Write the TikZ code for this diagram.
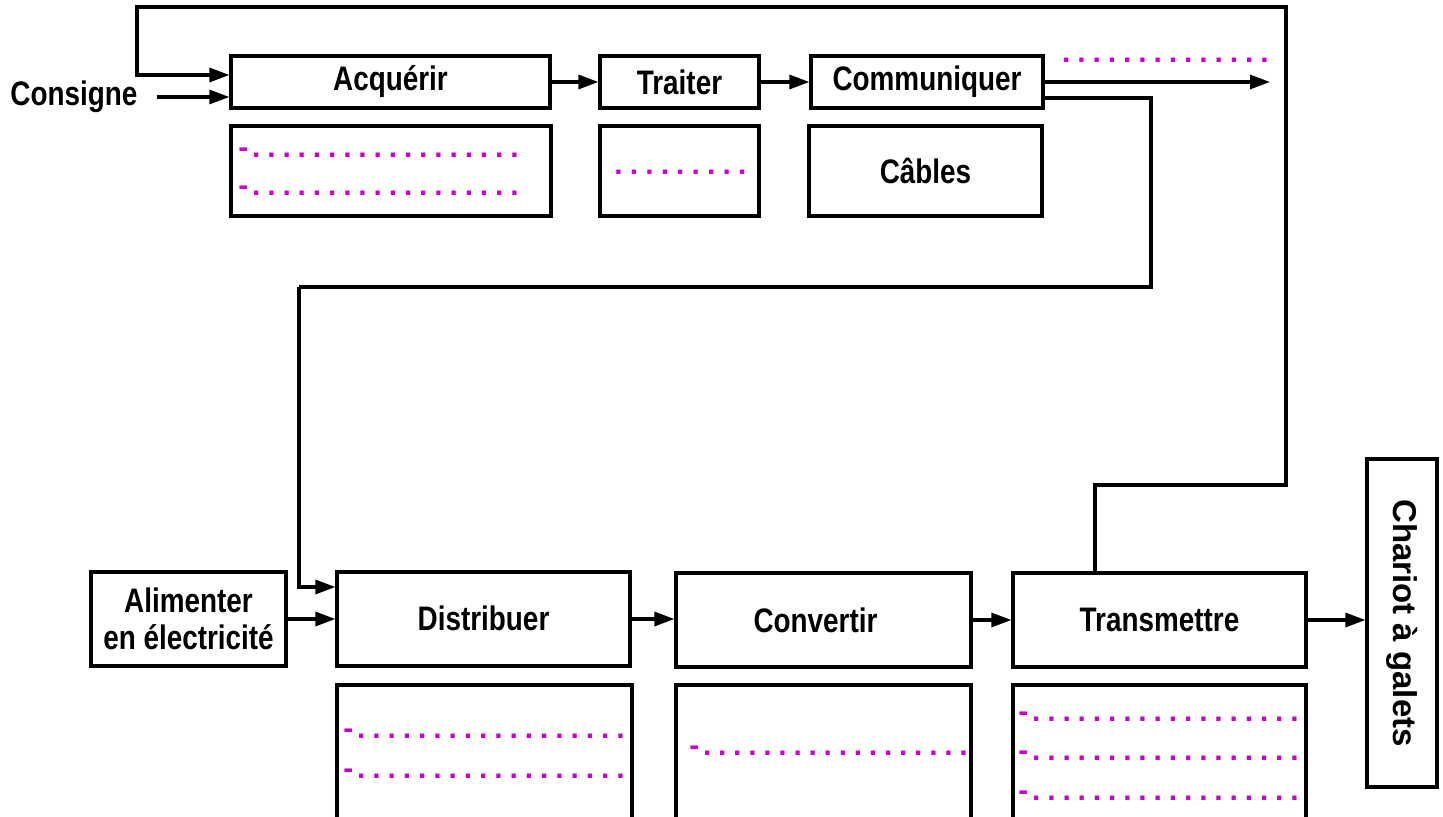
\documentclass[tikz,border=0pt]{standalone}
\usepackage{fontspec}
\setmainfont{Liberation Sans}
\newfontfamily\nbf[FakeStretch=0.82]{Liberation Sans}
\usetikzlibrary{arrows.meta}
\definecolor{mag}{RGB}{204,0,204}
\newcommand\drow[1]{\makebox[#1][l]{-\xleaders\hbox to 7.25pt{\hss.\hss}\hfill}}
\newcommand\dotsrow[1]{\makebox[#1][l]{\xleaders\hbox to 7.25pt{\hss.\hss}\hfill}}
\tikzset{
  box/.style={draw, line width=1.6pt, inner sep=0pt, align=center,
    font=\nbf\bfseries\fontsize{17}{18.5}\selectfont},
  lbl/.style={inner sep=0pt, font=\nbf\bfseries\fontsize{17}{18.5}\selectfont},
  dotr/.style={inner sep=0pt, text=mag, font=\bfseries\fontsize{15}{18}\selectfont},
  arr/.style={line width=1.6pt, -{Triangle[length=10pt,width=7pt]}},
  ln/.style={line width=1.6pt}
}
\begin{document}
\begin{tikzpicture}[x=0.5pt,y=-0.5pt]
\useasboundingbox (0,0) rectangle (1443,817);
\clip (0,0) rectangle (1443,817);
% top row
\node[box, minimum width=159.5pt, minimum height=26pt] (acq) at (390.5,82) {\raisebox{-1pt}{Acquérir}};
\node[box, minimum width=160pt, minimum height=45pt] (acqsub) at (391,171) {};
\node[box, minimum width=79.5pt, minimum height=26pt] (trt) at (679.5,82) {Traiter};
\node[box, minimum width=79.5pt, minimum height=45pt] (trtsub) at (679.5,171) {};
\node[box, minimum width=116pt, minimum height=26pt] (com) at (927,82) {\raisebox{-1pt}{Communiquer}};
\node[box, minimum width=116.5pt, minimum height=45pt] (cab) at (925.5,171) {\raisebox{-3pt}{Câbles}};
% bottom row
\node[box, minimum width=97.5pt, minimum height=47pt] (ali) at (188.5,619) {Alimenter\\en électricité};
\node[box, minimum width=146.5pt, minimum height=47pt] (dis) at (483.5,619) {\raisebox{1pt}{Distribuer}};
\node[box, minimum width=147.5pt, minimum height=47pt] (con) at (823.5,620) {\raisebox{-1pt}{Convertir}\hspace*{8pt}};
\node[box, minimum width=146.5pt, minimum height=47pt] (tra) at (1159.5,620) {Transmettre};
\node[box, rotate=-90, minimum width=164pt, minimum height=35pt,
  font=\bfseries\fontsize{16.5}{18}\selectfont] (cha) at (1402,623) {Chariot à galets};
\node[box, minimum width=147.5pt, minimum height=75pt] (dissub) at (484.5,760) {};
\node[box, minimum width=147.5pt, minimum height=75pt] (consub) at (823.5,760) {};
\node[box, minimum width=146.5pt, minimum height=75pt] (trasub) at (1159.5,760) {};
% label
\node[lbl, anchor=west] (cons) at (10,97) {Consigne};
% dotted rows
\node[dotr, anchor=base west] (a1) at (238,158) {\drow{142pt}};
\node[dotr, anchor=base west] (a2) at (238,196) {\drow{142pt}};
\node[dotr, anchor=base west] (t1) at (610,175) {\dotsrow{70pt}};
\node[dotr, anchor=base west] (o1) at (1058,63) {\dotsrow{107pt}};
\node[dotr, anchor=base west] (b1) at (343,738) {\drow{142.5pt}};
\node[dotr, anchor=base west] (b2) at (343,778) {\drow{142.5pt}};
\node[dotr, anchor=base west] (c1) at (689,755) {\drow{141pt}};
\node[dotr, anchor=base west] (e1) at (1018,721) {\drow{142pt}};
\node[dotr, anchor=base west] (e2) at (1018,760) {\drow{142pt}};
\node[dotr, anchor=base west] (e3) at (1018,800) {\drow{142pt}};
% coordinates
\coordinate (cin) at (157,97);
\coordinate (l1) at (1095,485);
\coordinate (l2) at (1286,7);
\coordinate (l3) at (137,75);
\coordinate (out) at (1270,82);
\coordinate (k1) at (1151,98);
\coordinate (k2) at (299,287);
\coordinate (k3) at (299,587);
% connectors
\draw[arr] (cin) -- (cin -| acq.west);
\draw[arr] (l1 |- tra.north) -- (l1) -| (l2) -| (l3) -- (l3 -| acq.west);
\draw[arr] (acq.east) -- (trt.west);
\draw[arr] (trt.east) -- (com.west);
\draw[arr] (com.east) -- (out);
\draw[ln] (com.east |- k1) -- (k1) |- (k2);
\draw[arr] (k2) -- (k3) -- (k3 -| dis.west);
\draw[arr] (ali.east) -- (dis.west);
\draw[arr] (dis.east) -- (dis.east -| con.west);
\draw[arr] (con.east) -- (con.east -| tra.west);
\draw[arr] (tra.east) -- (tra.east -| cha.south);
\end{tikzpicture}
\end{document}
